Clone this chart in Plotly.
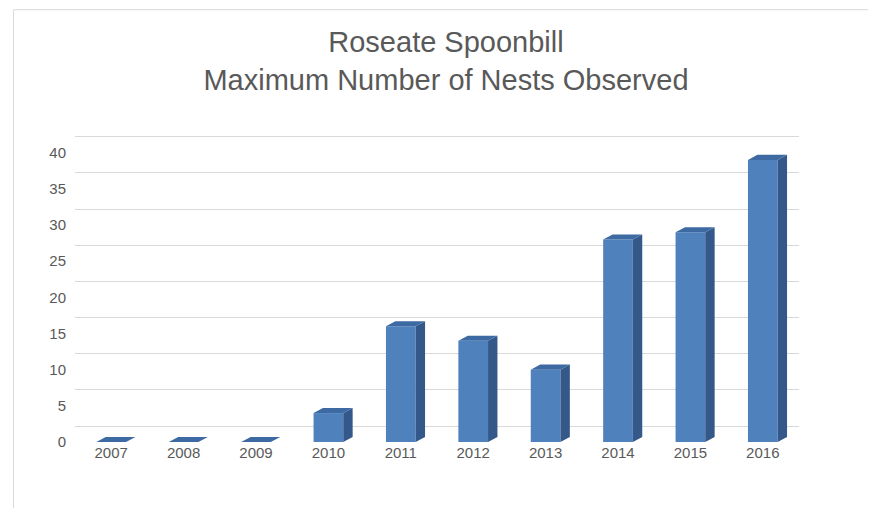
import plotly.graph_objects as go

years = ["2007","2008","2009","2010","2011","2012","2013","2014","2015","2016"]
nests = [0,0,0,4,16,14,10,28,29,39]

W = 0.41   # bar width (x units)
DX = 0.13  # depth offset x
DY = 0.7   # depth offset y
front_c = "#4F81BD"; side_c = "#34588A"; top_c = "#3E6AA3"

fig = go.Figure()
fig.add_trace(go.Scatter(x=[None], y=[None], yaxis="y2", showlegend=False))

for i, v in enumerate(nests):
    x0, x1 = i - W/2, i + W/2
    fig.add_trace(go.Scatter(x=[x1, x1+DX, x1+DX, x1, x1], y=[0, DY, v+DY, v, 0],
        fill="toself", fillcolor=side_c, line=dict(width=0), mode="lines",
        hoverinfo="skip", showlegend=False))
    fig.add_trace(go.Scatter(x=[x0, x1, x1+DX, x0+DX, x0], y=[v, v, v+DY, v+DY, v],
        fill="toself", fillcolor=top_c, line=dict(width=0), mode="lines",
        hoverinfo="skip", showlegend=False))
fig.add_trace(go.Bar(x=list(range(len(years))), y=nests, width=W, marker_color=front_c,
    marker_line_width=0, showlegend=False))

fig.update_layout(
    width=876, height=508,
    margin=dict(l=67, r=85, t=123, b=74),
    paper_bgcolor="white", plot_bgcolor="white",
    font=dict(family="Liberation Sans", color="#595959", size=15),
    title=dict(text="Roseate Spoonbill<br>Maximum Number of Nests Observed",
               x=0.5, xanchor="center", y=0.913, yanchor="top",
               font=dict(size=29, color="#595959")),
    xaxis=dict(range=[-0.5, 9.5], tickmode="array", tickvals=list(range(10)),
               ticktext=years, showgrid=False, zeroline=False, showline=False, ticks=""),
    yaxis=dict(range=[0, 43], tickvals=[0,5,10,15,20,25,30,35,40], showgrid=False,
               zeroline=False, showline=False, ticks="", ticklabelstandoff=8),
    yaxis2=dict(range=[-2.2, 40.8], overlaying="y", tickvals=[0,5,10,15,20,25,30,35,40],
                showticklabels=False, showgrid=True, gridcolor="#D9D9D9", zeroline=False),
    shapes=[dict(type="rect", xref="paper", yref="paper", x0=-0.085, x1=1.105, y0=-0.225, y1=1.39,
                 line=dict(color="#D9D9D9", width=1))],
)
fig.write_html("out.html")
